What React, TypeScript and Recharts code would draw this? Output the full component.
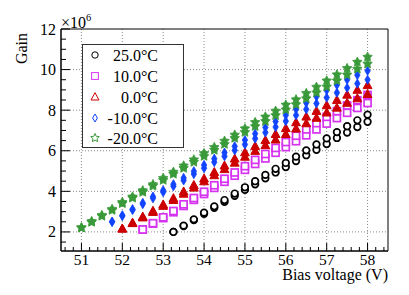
import React from 'react';
import { ScatterChart, Scatter, XAxis, YAxis, CartesianGrid, ReferenceArea, Label } from 'recharts';

// Bias voltages (V)
const biasVoltages = [51, 51.25, 51.5, 51.75, 52, 52.25, 52.5, 52.75, 53, 53.25, 53.5, 53.75, 54, 54.25, 54.5, 54.75, 55, 55.25, 55.5, 55.75, 56, 56.25, 56.5, 56.75, 57, 57.25, 57.5, 57.75, 58];

// Gain (x10^6), two repeated measurements (run A / run B) per temperature
const gain25A = [null, null, null, null, null, null, null, null, null, 2.0, 2.29, 2.58, 2.89, 3.19, 3.48, 3.78, 4.07, 4.35, 4.64, 4.93, 5.2, 5.49, 5.78, 6.05, 6.33, 6.63, 6.9, 7.17, 7.43];
const gain25B = [null, null, null, null, null, null, null, null, null, 2.0, 2.31, 2.62, 2.95, 3.26, 3.57, 3.89, 4.2, 4.5, 4.81, 5.11, 5.4, 5.71, 6.02, 6.31, 6.61, 6.92, 7.21, 7.5, 7.78];

const gain10A = [null, null, null, null, null, null, 2.12, 2.41, 2.68, 2.97, 3.28, 3.58, 3.87, 4.17, 4.47, 4.77, 5.06, 5.35, 5.62, 5.9, 6.18, 6.47, 6.76, 7.05, 7.34, 7.61, 7.87, 8.11, 8.35];
const gain10B = [null, null, null, null, null, null, 2.12, 2.43, 2.72, 3.03, 3.36, 3.67, 3.98, 4.3, 4.62, 4.93, 5.24, 5.55, 5.84, 6.14, 6.43, 6.74, 7.05, 7.36, 7.67, 7.95, 8.23, 8.49, 8.75];

const gain0A = [null, null, null, null, 2.15, 2.42, 2.7, 2.97, 3.27, 3.56, 3.87, 4.17, 4.48, 4.78, 5.08, 5.4, 5.69, 5.98, 6.26, 6.54, 6.81, 7.08, 7.34, 7.61, 7.87, 8.11, 8.35, 8.57, 8.78];
const gain0B = [null, null, null, null, 2.15, 2.44, 2.74, 3.03, 3.34, 3.65, 3.98, 4.3, 4.62, 4.94, 5.26, 5.6, 5.91, 6.22, 6.51, 6.81, 7.1, 7.39, 7.67, 7.95, 8.23, 8.49, 8.75, 8.99, 9.22];

const gainM10A = [null, null, null, 2.49, 2.78, 3.08, 3.37, 3.66, 3.96, 4.25, 4.54, 4.85, 5.14, 5.44, 5.73, 6.02, 6.31, 6.6, 6.9, 7.17, 7.46, 7.75, 8.04, 8.33, 8.62, 8.86, 9.1, 9.31, 9.5];
const gainM10B = [null, null, null, 2.51, 2.82, 3.12, 3.43, 3.74, 4.05, 4.35, 4.66, 4.99, 5.3, 5.61, 5.91, 6.22, 6.53, 6.84, 7.15, 7.44, 7.75, 8.05, 8.36, 8.67, 8.98, 9.24, 9.5, 9.73, 9.94];

const gainM20A = [2.2, 2.48, 2.78, 3.07, 3.4, 3.67, 3.96, 4.26, 4.55, 4.85, 5.14, 5.44, 5.73, 6.03, 6.32, 6.62, 6.91, 7.2, 7.45, 7.74, 8.02, 8.28, 8.57, 8.86, 9.15, 9.45, 9.74, 10.03, 10.28];
const gainM20B = [2.22, 2.52, 2.82, 3.12, 3.46, 3.73, 4.04, 4.34, 4.65, 4.95, 5.26, 5.56, 5.87, 6.17, 6.48, 6.78, 7.09, 7.4, 7.67, 7.96, 8.26, 8.52, 8.83, 9.14, 9.45, 9.75, 10.06, 10.37, 10.62];

// Axis ticks
const xMajorTicks = [51, 52, 53, 54, 55, 56, 57, 58];
const xMinorTicks = [50.6, 50.8, 51.2, 51.4, 51.6, 51.8, 52.2, 52.4, 52.6, 52.8, 53.2, 53.4, 53.6, 53.8, 54.2, 54.4, 54.6, 54.8, 55.2, 55.4, 55.6, 55.8, 56.2, 56.4, 56.6, 56.8, 57.2, 57.4, 57.6, 57.8, 58.2, 58.4];
const yMajorTicks = [2, 4, 6, 8, 10, 12];
const yMinorTicks = [1.5, 2.5, 3, 3.5, 4.5, 5, 5.5, 6.5, 7, 7.5, 8.5, 9, 9.5, 10.5, 11, 11.5];
const yGridValues = [2, 4, 6, 8, 10];

const seriesLabels = ['25.0°C', '10.0°C', '0.0°C', '-10.0°C', '-20.0°C'];
const seriesColors = ['#000000', '#d633f0', '#cc0000', '#1144ff', '#3a9a3a'];

const FONT = "'Liberation Serif', 'Times New Roman', Times, serif";
const txt = { fontFamily: FONT };

function toPoints(a: (number | null)[], b: (number | null)[]) {
  const pts: { v: number; g: number }[] = [];
  biasVoltages.forEach((v, i) => {
    if (a[i] != null) pts.push({ v, g: a[i] as number });
    if (b[i] != null) pts.push({ v, g: b[i] as number });
  });
  return pts;
}

const data25 = toPoints(gain25A, gain25B);
const data10 = toPoints(gain10A, gain10B);
const data0 = toPoints(gain0A, gain0B);
const dataM10 = toPoints(gainM10A, gainM10B);
const dataM20 = toPoints(gainM20A, gainM20B);

function starPoints(cx: number, cy: number, ro: number, ri: number) {
  const pts: string[] = [];
  for (let k = 0; k < 10; k++) {
    const r = k % 2 === 0 ? ro : ri;
    const a = -Math.PI / 2 + (k * Math.PI) / 5;
    pts.push(`${cx + r * Math.cos(a)},${cy + r * Math.sin(a)}`);
  }
  return pts.join(' ');
}

const CircleShape = (p: any) => (
  <circle cx={p.cx} cy={p.cy} r={3.3} fill="#fff" stroke={seriesColors[0]} strokeWidth={1.7} />
);
const SquareShape = (p: any) => (
  <rect x={p.cx - 3.5} y={p.cy - 3.5} width={7} height={7} fill="#fff" stroke={seriesColors[1]} strokeWidth={1.7} />
);
const TriangleShape = (p: any) => (
  <polygon
    points={`${p.cx},${p.cy - 4.8} ${p.cx - 4.4},${p.cy + 3.2} ${p.cx + 4.4},${p.cy + 3.2}`}
    fill={seriesColors[2]}
    stroke={seriesColors[2]}
    strokeWidth={1}
  />
);
const DiamondShape = (p: any) => (
  <polygon
    points={`${p.cx},${p.cy - 4.6} ${p.cx + 2.7},${p.cy} ${p.cx},${p.cy + 4.6} ${p.cx - 2.7},${p.cy}`}
    fill={seriesColors[3]}
    stroke={seriesColors[3]}
    strokeWidth={0.8}
  />
);
const StarShape = (p: any) => (
  <polygon points={starPoints(p.cx, p.cy, 5, 2.5)} fill={seriesColors[4]} stroke={seriesColors[4]} strokeWidth={0.8} />
);

const XTick = (props: any) => {
  const { x, y, payload } = props;
  const major = xMajorTicks.includes(payload.value);
  return (
    <g>
      <line x1={x} y1={y} x2={x} y2={y - (major ? 8 : 4)} stroke="#000" strokeWidth={1} />
      {major && (
        <text x={x} y={y + 14} textAnchor="middle" style={txt} fontSize={15.5} fill="#000">
          {payload.value}
        </text>
      )}
    </g>
  );
};

const YTick = (props: any) => {
  const { x, y, payload } = props;
  const major = yMajorTicks.includes(payload.value);
  return (
    <g>
      <line x1={x} y1={y} x2={x + (major ? 9 : 5)} y2={y} stroke="#000" strokeWidth={1} />
      {major && (
        <text x={x - 5} y={y + 5.5} textAnchor="end" style={txt} fontSize={16} fill="#000">
          {payload.value}
        </text>
      )}
    </g>
  );
};

const XTitle = (props: any) => {
  const vb = props.viewBox;
  return (
    <text x={vb.x + vb.width} y={vb.y + 29} textAnchor="end" style={txt} fontSize={16} fill="#000">
      Bias voltage (V)
    </text>
  );
};

const YTitle = (props: any) => {
  const vb = props.viewBox;
  const ax = vb.x + 27;
  const ay = vb.y + 4;
  return (
    <g>
      <text x={ax} y={ay} transform={`rotate(-90, ${ax}, ${ay})`} textAnchor="end" style={txt} fontSize={16} fill="#000">
        Gain
      </text>
      <text x={vb.x + vb.width} y={vb.y - 1} style={txt} fontSize={16} fill="#000">
        ×10
        <tspan fontSize={10.5} dy={-7}>6</tspan>
      </text>
    </g>
  );
};

const legendShapes = [
  (cx: number, cy: number) => <circle cx={cx} cy={cy} r={3.2} fill="none" stroke={seriesColors[0]} strokeWidth={1} />,
  (cx: number, cy: number) => <rect x={cx - 3.4} y={cy - 3.4} width={6.8} height={6.8} fill="none" stroke={seriesColors[1]} strokeWidth={1} />,
  (cx: number, cy: number) => (
    <polygon points={`${cx},${cy - 4.3} ${cx - 4},${cy + 3} ${cx + 4},${cy + 3}`} fill="none" stroke={seriesColors[2]} strokeWidth={1} />
  ),
  (cx: number, cy: number) => (
    <polygon points={`${cx},${cy - 4} ${cx + 2.4},${cy} ${cx},${cy + 4} ${cx - 2.4},${cy}`} fill="none" stroke={seriesColors[3]} strokeWidth={1} />
  ),
  (cx: number, cy: number) => <polygon points={starPoints(cx, cy, 4.5, 2.1)} fill="none" stroke={seriesColors[4]} strokeWidth={1} />,
];

const legendRows = [10, 31, 52, 73, 93];

export default function App() {
  return (
    <div style={{ position: 'absolute', left: 0, top: 0, width: 409, height: 295, background: '#fff', fontFamily: FONT }}>
      <ScatterChart width={409} height={295} margin={{ top: 29, right: 21, bottom: 0, left: 0 }} style={{ fontFamily: FONT }}>
        <CartesianGrid
          verticalValues={xMajorTicks}
          horizontalValues={yGridValues}
          stroke="#8a8a8a"
          strokeDasharray="1 2"
        />
        <XAxis
          type="number"
          dataKey="v"
          domain={[50.5, 58.5]}
          ticks={[...xMajorTicks, ...xMinorTicks].sort((a, b) => a - b)}
          interval={0}
          tick={<XTick />}
          tickLine={false}
          tickSize={0}
          tickMargin={0}
          axisLine={{ stroke: '#000' }}
          height={44}
          allowDataOverflow
        >
          <Label content={<XTitle />} />
        </XAxis>
        <YAxis
          type="number"
          dataKey="g"
          domain={[1.06, 12]}
          ticks={[...yMinorTicks, ...yMajorTicks].sort((a, b) => a - b)}
          interval={0}
          tick={<YTick />}
          tickLine={false}
          tickSize={0}
          tickMargin={0}
          axisLine={{ stroke: '#000' }}
          width={61}
          allowDataOverflow
        >
          <Label content={<YTitle />} />
        </YAxis>
        <ReferenceArea x1={50.5} x2={58.5} y1={1.06} y2={12} fill="none" stroke="#000" strokeWidth={1} ifOverflow="visible" />
        <Scatter data={data25} shape={<CircleShape />} isAnimationActive={false} />
        <Scatter data={data10} shape={<SquareShape />} isAnimationActive={false} />
        <Scatter data={data0} shape={<TriangleShape />} isAnimationActive={false} />
        <Scatter data={dataM10} shape={<DiamondShape />} isAnimationActive={false} />
        <Scatter data={dataM20} shape={<StarShape />} isAnimationActive={false} />
      </ScatterChart>
      <div
        style={{
          position: 'absolute',
          left: 82,
          top: 44,
          width: 102,
          height: 104,
          boxSizing: 'border-box',
          border: '1px solid #333',
          background: '#fff',
        }}
      >
        <svg width={100} height={102} style={{ display: 'block' }}>
          {seriesLabels.map((lab, i) => (
            <g key={lab}>
              {legendShapes[i](12, legendRows[i])}
              <text x={75} y={legendRows[i] + 5.5} textAnchor="end" style={txt} fontSize={16} fill="#000">
                {lab}
              </text>
            </g>
          ))}
        </svg>
      </div>
    </div>
  );
}
